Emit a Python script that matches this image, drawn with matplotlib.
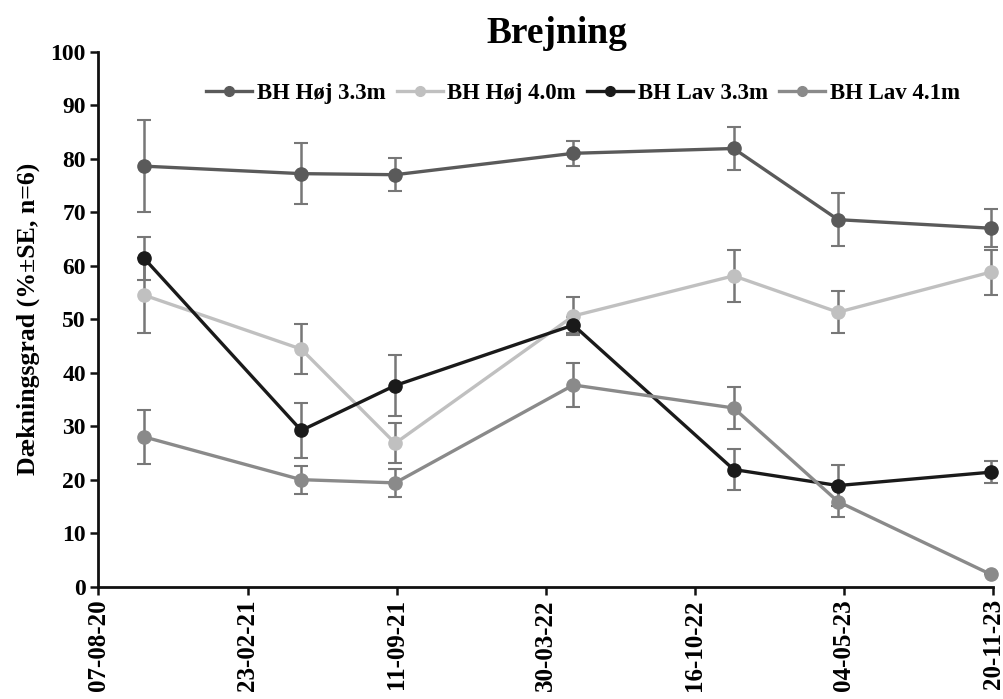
import matplotlib
matplotlib.use("Agg")
import matplotlib.pyplot as plt
import matplotlib.dates as mdates
import numpy as np
import datetime as dt

plt.rcParams['font.family'] = ['Liberation Serif', 'DejaVu Serif']
plt.rcParams['font.weight'] = 'bold'

# ---- data ----
dates = ["2020-10-07", "2021-05-06", "2021-09-09", "2022-05-06",
         "2022-12-07", "2023-04-26", "2023-11-17"]
series_names = ["BH Høj 3.3m", "BH Høj 4.0m", "BH Lav 3.3m", "BH Lav 4.1m"]
hoej_33 = [78.6, 77.2, 77.0, 81.0, 81.9, 68.6, 67.0]
hoej_33_se = [8.6, 5.7, 3.1, 2.3, 4.1, 5.0, 3.5]
hoej_40 = [54.5, 44.4, 26.8, 50.6, 58.1, 51.3, 58.8]
hoej_40_se = [7.0, 4.7, 3.7, 3.6, 4.8, 3.9, 4.2]
lav_33 = [61.4, 29.2, 37.6, 48.9, 21.9, 18.9, 21.4]
lav_33_se = [4.0, 5.1, 5.7, 1.5, 3.9, 3.9, 2.1]
lav_41 = [28.0, 20.0, 19.4, 37.7, 33.4, 15.9, 2.3]
lav_41_se = [5.0, 2.6, 2.6, 4.1, 4.0, 2.8, 0.0]
colors = ["#5a5a5a", "#c0c0c0", "#1a1a1a", "#8a8a8a"]

x_start = "2020-08-07"
x_end = "2023-11-20"
tick_step_days = 200

x = [dt.datetime.strptime(d, "%Y-%m-%d") for d in dates]
values = [hoej_33, hoej_40, lav_33, lav_41]
errors = [hoej_33_se, hoej_40_se, lav_33_se, lav_41_se]

fig = plt.figure(figsize=(10.04, 6.99), dpi=100)
ax = fig.add_axes([0.0981, 0.1607, 0.891, 0.7654])

for name, v, e, c in zip(series_names, values, errors, colors):
    cont = ax.errorbar(x, v, yerr=e, color=c, ecolor="#777777", elinewidth=1.8,
                       capsize=5, capthick=1.5, lw=2.4, marker='o', markersize=9.5,
                       label=name, zorder=3, clip_on=False)
    for cl in cont[1]:
        cl.set_color("#4a4a4a")

x0 = dt.datetime.strptime(x_start, "%Y-%m-%d")
x1 = dt.datetime.strptime(x_end, "%Y-%m-%d")
ax.set_xlim(x0, x1)
ticks = []
t = x0
while t <= x1:
    ticks.append(t)
    t = t + dt.timedelta(days=tick_step_days)
ax.set_xticks(ticks)
ax.xaxis.set_major_formatter(mdates.DateFormatter("%d-%m-%y"))
ax.set_ylim(0, 100)
ax.set_yticks(np.arange(0, 101, 10))

for s in ['top', 'right']:
    ax.spines[s].set_visible(False)
for s in ['left', 'bottom']:
    ax.spines[s].set_linewidth(2.0)
    ax.spines[s].set_color('#111111')

ax.tick_params(axis='both', direction='out', length=6, width=1.8, color='#111111',
               pad=3)
ax.tick_params(axis='y', labelsize=17)
ax.tick_params(axis='x', labelsize=18, labelrotation=90)
for lab in ax.get_xticklabels() + ax.get_yticklabels():
    lab.set_fontweight('bold')

ax.set_ylabel("Dækningsgrad (%±SE, n=6)", fontsize=18.5, fontweight='bold', labelpad=8)

fig.text(557 / 1004, 1 - 43 / 699, "Brejning", ha='center', va='baseline',
         fontsize=27, fontweight='bold')

leg_handles = [plt.Line2D([], [], color=c, lw=2.4, marker='o', markersize=7)
               for c in colors]
leg = fig.legend(leg_handles, series_names, loc='center',
                 bbox_to_anchor=(583 / 1004, 1 - 93 / 699), ncol=4, frameon=False,
                 handlelength=2.0, handletextpad=0.2,
                 columnspacing=0.5, prop={'weight': 'bold', 'size': 16.5})

fig.savefig("out.png", dpi=100)
